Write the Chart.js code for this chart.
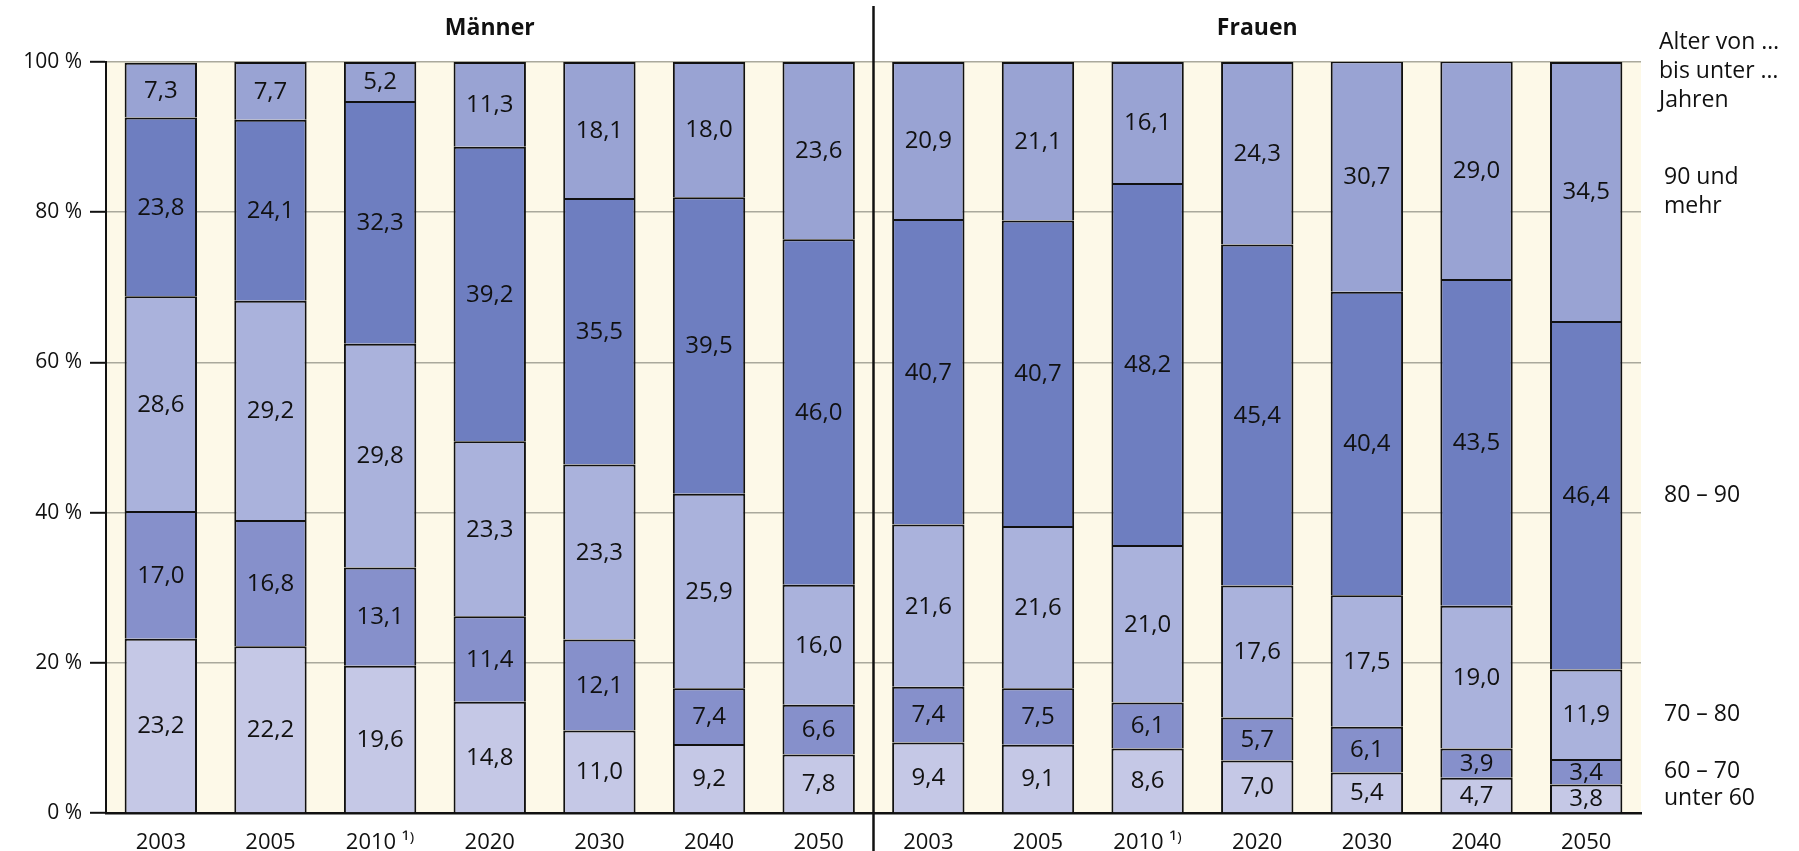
<!DOCTYPE html>
<html>
<head>
<meta charset="utf-8">
<script src="https://cdn.jsdelivr.net/npm/chart.js@4.4.1/dist/chart.umd.min.js"></script>
<style>
  html, body { margin: 0; padding: 0; background: #fff; }
  #wrap { width: 1799px; height: 851px; }
</style>
</head>
<body>
<div id="wrap"><canvas id="chart" width="1799" height="851"></canvas></div>
<script>
// Kategorien (je 7 Jahre für Männer und Frauen)
const jahre = ['2003', '2005', '2010 ¹⁾', '2020', '2030', '2040', '2050'];
const kategorien = [...jahre, ...jahre];
const gruppen = ['Männer', 'Frauen'];

// Altersgruppen (von unten nach oben)
const altersgruppen = [['unter 60'], ['60 – 70'], ['70 – 80'], ['80 – 90'], ['90 und', 'mehr']];
const legendeKopf = ['Alter von …', 'bis unter …', 'Jahren'];

// Anteile in % (Männer 2003..2050, dann Frauen 2003..2050)
const unter60  = [23.2, 22.2, 19.6, 14.8, 11.0,  9.2,  7.8,   9.4,  9.1,  8.6,  7.0,  5.4,  4.7,  3.8];
const alter6070 = [17.0, 16.8, 13.1, 11.4, 12.1,  7.4,  6.6,   7.4,  7.5,  6.1,  5.7,  6.1,  3.9,  3.4];
const alter7080 = [28.6, 29.2, 29.8, 23.3, 23.3, 25.9, 16.0,  21.6, 21.6, 21.0, 17.6, 17.5, 19.0, 11.9];
const alter8090 = [23.8, 24.1, 32.3, 39.2, 35.5, 39.5, 46.0,  40.7, 40.7, 48.2, 45.4, 40.4, 43.5, 46.4];
const ab90     = [ 7.3,  7.7,  5.2, 11.3, 18.1, 18.0, 23.6,  20.9, 21.1, 16.1, 24.3, 30.7, 29.0, 34.5];

const farben = ['#c5c8e6', '#8690cb', '#aab2dc', '#6e7ec0', '#99a3d3'];
const SCHRIFT = '"Open Sans", "DejaVu Sans", sans-serif';

// Hintergrund: weiß, Diagrammfläche cremefarben
const hintergrund = {
    id: 'hintergrund',
    beforeDraw(chart) {
        const { ctx, chartArea: a } = chart;
        ctx.save();
        ctx.fillStyle = '#ffffff';
        ctx.fillRect(0, 0, chart.width, chart.height);
        ctx.fillStyle = '#fdf9e8';
        ctx.fillRect(a.left, a.top, a.right - a.left, a.bottom - a.top);
        ctx.restore();
    }
};

// Werte in die Balkensegmente schreiben
const wertBeschriftung = {
    id: 'wertBeschriftung',
    afterDatasetsDraw(chart) {
        const ctx = chart.ctx;
        ctx.save();
        ctx.font = '24px ' + SCHRIFT;
        ctx.fillStyle = '#111';
        ctx.textAlign = 'center';
        ctx.textBaseline = 'middle';
        chart.data.datasets.forEach((ds, i) => {
            chart.getDatasetMeta(i).data.forEach((bar, j) => {
                const text = ds.data[j].toFixed(1).replace('.', ',');
                ctx.fillText(text, bar.x, (bar.y + bar.base) / 2 + 1);
            });
        });
        ctx.restore();
    }
};

// Gruppentitel, Trennlinie und Legende rechts
const rahmen = {
    id: 'rahmen',
    afterDraw(chart) {
        const { ctx, chartArea: a } = chart;
        const n = jahre.length;
        const metaErste = chart.getDatasetMeta(0).data;
        const trennX = (metaErste[n - 1].x + metaErste[n].x) / 2;

        ctx.save();
        // Trennlinie
        ctx.strokeStyle = '#111';
        ctx.lineWidth = 2.5;
        ctx.beginPath();
        ctx.moveTo(trennX, 6);
        ctx.lineTo(trennX, chart.height);
        ctx.stroke();

        // Gruppentitel
        ctx.font = 'bold 23px ' + SCHRIFT;
        ctx.fillStyle = '#111';
        ctx.textAlign = 'center';
        ctx.textBaseline = 'middle';
        ctx.fillText(gruppen[0], (a.left + trennX) / 2, 28);
        ctx.fillText(gruppen[1], (trennX + a.right) / 2, 28);

        // Legende rechts
        ctx.font = '23px ' + SCHRIFT;
        ctx.textAlign = 'left';
        legendeKopf.forEach((t, i) => ctx.fillText(t, a.right + 18, a.top - 20 + i * 29));
        altersgruppen.forEach((zeilen, i) => {
            const bar = chart.getDatasetMeta(i).data[kategorien.length - 1];
            const mitte = (bar.y + bar.base) / 2;
            const start = mitte - (zeilen.length - 1) * 29 / 2;
            zeilen.forEach((z, k) => ctx.fillText(z, a.right + 23, start + k * 29));
        });
        ctx.restore();
    }
};

const reihen = [unter60, alter6070, alter7080, alter8090, ab90];

new Chart(document.getElementById('chart'), {
    type: 'bar',
    data: {
        labels: kategorien,
        datasets: reihen.map((werte, i) => ({
            label: altersgruppen[i].join(' '),
            data: werte,
            backgroundColor: farben[i],
            borderColor: '#111',
            borderWidth: 2,
            borderSkipped: 'start',
            barPercentage: 0.66,
            categoryPercentage: 1.0
        }))
    },
    options: {
        responsive: false,
        animation: false,
        devicePixelRatio: 1,
        layout: { padding: { left: 0, right: 158, top: 62, bottom: 0 } },
        plugins: {
            legend: { display: false },
            tooltip: { enabled: false }
        },
        scales: {
            x: {
                stacked: true,
                grid: { display: false, drawTicks: false },
                border: { display: true, color: '#111', width: 2.5 },
                ticks: {
                    font: { family: SCHRIFT, size: 22 },
                    color: '#111',
                    padding: 17,
                    maxRotation: 0,
                    autoSkip: false
                },
                afterFit(scale) { scale.height = 38; }
            },
            y: {
                stacked: true,
                min: 0,
                max: 100,
                ticks: {
                    stepSize: 20,
                    font: { family: SCHRIFT, size: 21 },
                    color: '#111',
                    padding: 8,
                    callback: v => v + ' %'
                },
                grid: {
                    color: ctx => ctx.tick && ctx.tick.value === 0 ? '#111' : '#aaa99c',
                    lineWidth: 1.6,
                    tickColor: '#111',
                    tickLength: 16,
                    tickWidth: 2
                },
                border: { display: true, color: '#111', width: 2 },
                afterFit(scale) { scale.width = 106; }
            }
        }
    },
    plugins: [hintergrund, wertBeschriftung, rahmen]
});
</script>
</body>
</html>
